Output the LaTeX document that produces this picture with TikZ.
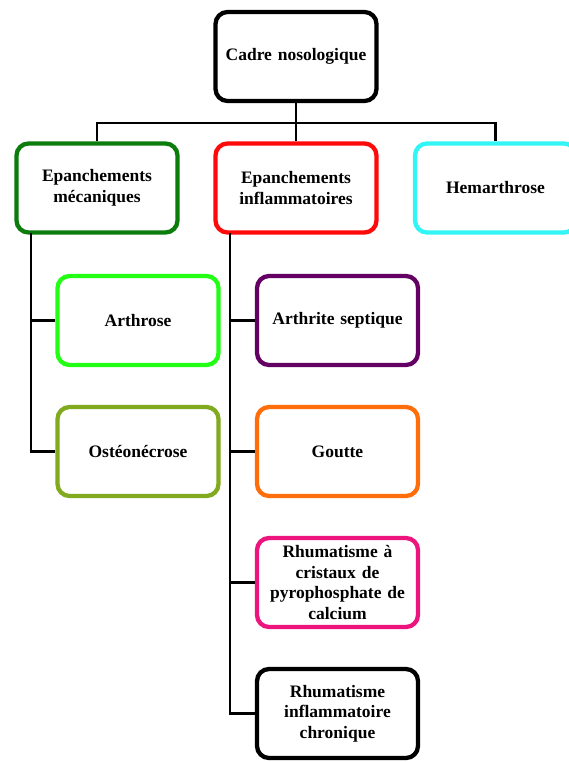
\documentclass[tikz,border=0pt]{standalone}
\usepackage{fontspec}
\setmainfont{Liberation Serif}
\definecolor{dgreen}{RGB}{12,125,12}
\definecolor{bred}{RGB}{255,10,10}
\definecolor{bcyan}{RGB}{50,245,245}
\definecolor{lgreen}{RGB}{34,255,20}
\definecolor{olive}{RGB}{130,170,30}
\definecolor{purp}{RGB}{100,0,100}
\definecolor{orng}{RGB}{255,110,10}
\definecolor{pink}{RGB}{238,20,125}
\newcommand{\myboxfont}{\fontsize{17.5}{20.5}\selectfont\bfseries\spaceskip=3.2pt plus 0.4pt\relax}
\tikzset{
  box/.style={draw, line width=4.3pt, rounded corners=12pt, fill=white,
    minimum width=161pt, minimum height=89pt, text width=155pt, align=center,
    font=\myboxfont, inner sep=0pt},
  link/.style={draw, line width=2.2pt, black}
}
\begin{document}
\begin{tikzpicture}[x=1pt,y=-1pt]
\useasboundingbox (0,0) rectangle (569,762);
\clip (0,0) rectangle (569,762);
\fill[white] (0,0) rectangle (569,762);
\node[box, draw=black] (root) at (296,56.5) {Cadre nosologique};
\node[box, draw=dgreen] (meca) at (97,188) {Epanchements\\mécaniques};
\node[box, draw=bred] (infl) at (296,188) {Epanchements\\inflammatoires};
\node[box, draw=bcyan] (hem) at (495.5,188) {Hemarthrose};
\node[box, draw=lgreen] (arth) at (138,320.5) {Arthrose};
\node[box, draw=olive] (osteo) at (138,451.5) {Ostéonécrose};
\node[box, draw=purp] (sept) at (337.5,320.5) {Arthrite septique};
\node[box, draw=orng] (gout) at (337.5,451.5) {Goutte};
\node[box, draw=pink] (ccp) at (337.5,582.5) {Rhumatisme à\\cristaux de\\pyrophosphate de\\calcium};
\node[box, draw=black] (ric) at (337.5,713.5) {Rhumatisme\\inflammatoire\\chronique};
\draw[link] (root.south) -- (296,123);
\draw[link] (meca.north) -- (97,123) -- (495.5,123) -- (hem.north);
\draw[link] (infl.north) -- (296,123);
\draw[link] (31,233) -- (31,451.5) -- (osteo.west);
\draw[link] (31,320.5) -- (arth.west);
\draw[link] (230,233) -- (230,713.5) -- (ric.west);
\draw[link] (230,320.5) -- (sept.west);
\draw[link] (230,451.5) -- (gout.west);
\draw[link] (230,582.5) -- (ccp.west);
\end{tikzpicture}
\end{document}
